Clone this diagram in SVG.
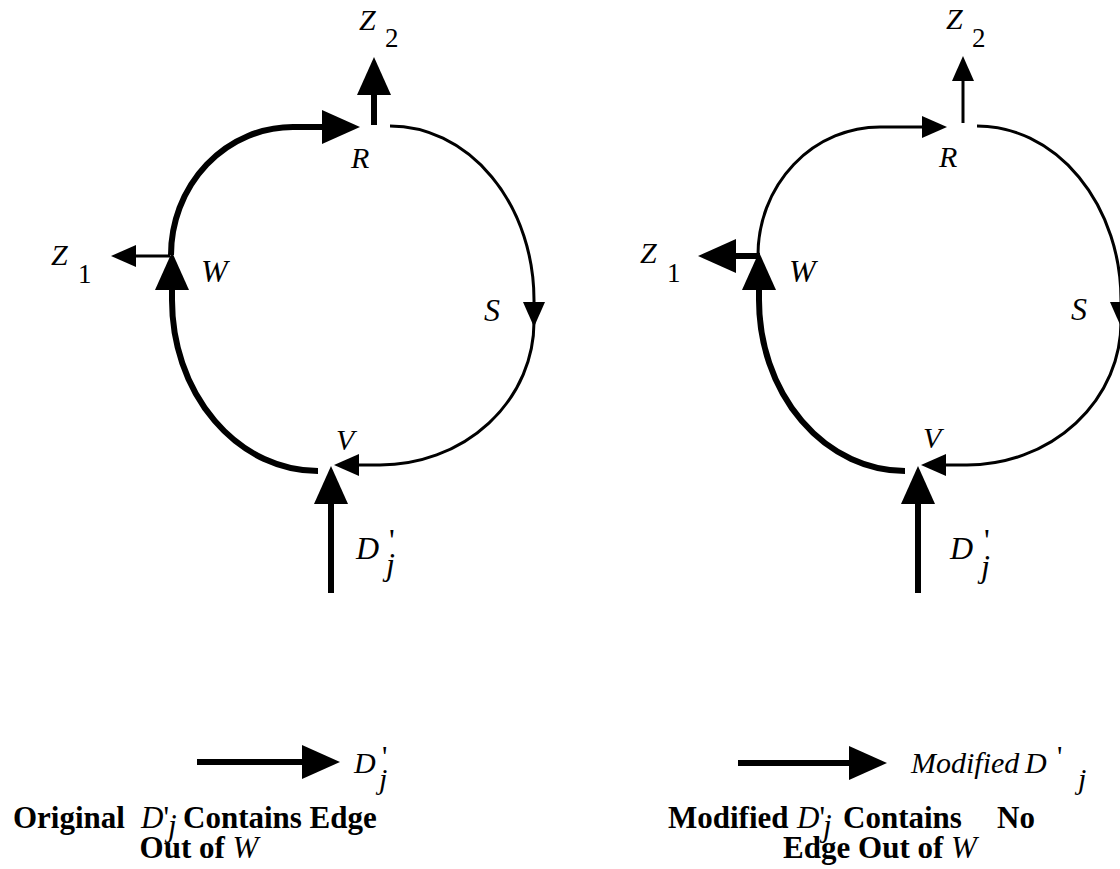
<svg xmlns="http://www.w3.org/2000/svg" width="1120" height="869" viewBox="0 0 1120 869">
<style>
.thick{fill:none;stroke:#000;stroke-width:6}
.thin{fill:none;stroke:#000;stroke-width:3}
text{font-family:"Liberation Serif","Times New Roman",serif;fill:#000}
.lbl{font-style:italic}
.sm{font-size:30px}
.lg{font-size:32px}
.up{font-style:normal}
.sub{font-size:27px;font-style:normal}
.cap{font-size:31px;font-weight:bold}
.it{font-style:italic;font-weight:normal}
.leg{font-size:30px;font-style:italic}
</style>
<defs>
<marker id="big" viewBox="0 0 38 34" refX="1" refY="17" markerWidth="38" markerHeight="34" orient="auto" markerUnits="userSpaceOnUse"><path d="M0,0 L38,17 L0,34 z" fill="#000"/></marker>
<marker id="small" viewBox="0 0 25 22" refX="1" refY="11" markerWidth="25" markerHeight="22" orient="auto" markerUnits="userSpaceOnUse"><path d="M0,0 L25,11 L0,22 z" fill="#000"/></marker>
</defs>
<rect width="1120" height="869" fill="#fff"/>
<g id="connectors">
<path class="thick" d="M318,471 A146,171 0 0 1 172,300 L172,289" marker-end="url(#big)"/>
<path class="thick" d="M171,255 A122,128 0 0 1 293,127 L323,127" marker-end="url(#big)"/>
<path class="thin" d="M170,256 L135,256" marker-end="url(#small)"/>
<path class="thick" d="M374,125 L374,94" marker-end="url(#big)"/>
<path class="thin" d="M390,126 A144,174 0 0 1 534,300 L534,303" marker-end="url(#small)"/>
<path class="thin" d="M534,322 A154,143 0 0 1 380,465 L358,465" marker-end="url(#small)"/>
<path class="thick" d="M331,593 L331,503" marker-end="url(#big)"/>
<path class="thick" d="M197,762 L303,762" marker-end="url(#big)"/>
<path class="thick" d="M905,471 A146,171 0 0 1 759,300 L759,289" marker-end="url(#big)"/>
<path class="thin" d="M758,255 A122,128 0 0 1 880,127 L923,127" marker-end="url(#small)"/>
<path class="thick" d="M760,256 L735,256" marker-end="url(#big)"/>
<path class="thin" d="M963,123 L963,80" marker-end="url(#small)"/>
<path class="thin" d="M977,126 A144,174 0 0 1 1121,300 L1121,303" marker-end="url(#small)"/>
<path class="thin" d="M1121,322 A154,143 0 0 1 967,465 L945,465" marker-end="url(#small)"/>
<path class="thick" d="M918,593 L918,503" marker-end="url(#big)"/>
<path class="thick" d="M738,763 L850,763" marker-end="url(#big)"/>
</g>
<g id="left-Z2"><text class="lbl sm" x="359" y="30">Z<tspan class="sub" x="385" y="47">2</tspan></text></g>
<g id="left-R"><text class="lbl sm" x="351" y="168">R</text></g>
<g id="left-Z1"><text class="lbl sm" x="51" y="265">Z<tspan class="sub" x="78" y="283">1</tspan></text></g>
<g id="left-W"><text class="lbl lg" x="201" y="282">W</text></g>
<g id="left-S"><text class="lbl lg" x="484" y="321">S</text></g>
<g id="left-V"><text class="lbl sm" x="336" y="450">V</text></g>
<g id="left-D"><text class="lbl lg" x="356" y="559">D<tspan class="up" x="389" y="551">'</tspan><tspan x="386" y="575">j</tspan></text></g>
<g id="left-legend"><text class="leg" x="354" y="773">D<tspan class="up" x="382" y="766">'</tspan><tspan x="379" y="789">j</tspan></text></g>
<g id="left-caption">
<text class="cap" x="13" y="828">Original<tspan class="it" x="141">D<tspan class="up">'</tspan></tspan><tspan class="it" x="168" y="836">j</tspan><tspan x="183" y="828">Contains Edge</tspan></text>
<text class="cap" x="199" y="858" text-anchor="middle">Out of <tspan class="it">W</tspan></text>
</g>
<g id="right-Z2"><text class="lbl sm" x="946" y="29">Z<tspan class="sub" x="972" y="47">2</tspan></text></g>
<g id="right-R"><text class="lbl sm" x="939" y="167">R</text></g>
<g id="right-Z1"><text class="lbl sm" x="640" y="263">Z<tspan class="sub" x="667" y="282">1</tspan></text></g>
<g id="right-W"><text class="lbl lg" x="789" y="282">W</text></g>
<g id="right-S"><text class="lbl lg" x="1071" y="320">S</text></g>
<g id="right-V"><text class="lbl sm" x="923" y="448">V</text></g>
<g id="right-D"><text class="lbl lg" x="950" y="559">D<tspan class="up" x="984" y="551">'</tspan><tspan x="981" y="577">j</tspan></text></g>
<g id="right-legend"><text class="leg" x="911" y="773">Modified<tspan x="1025">D</tspan><tspan class="up" x="1057" y="766">'</tspan><tspan x="1078" y="789">j</tspan></text></g>
<g id="right-caption">
<text class="cap" x="668" y="828">Modified<tspan class="it" x="797">D<tspan class="up">'</tspan></tspan><tspan class="it" x="823" y="836">j</tspan><tspan x="843" y="828">Contains</tspan><tspan x="997">No</tspan></text>
<text class="cap" x="880" y="858" text-anchor="middle">Edge Out of <tspan class="it">W</tspan></text>
</g>
</svg>
